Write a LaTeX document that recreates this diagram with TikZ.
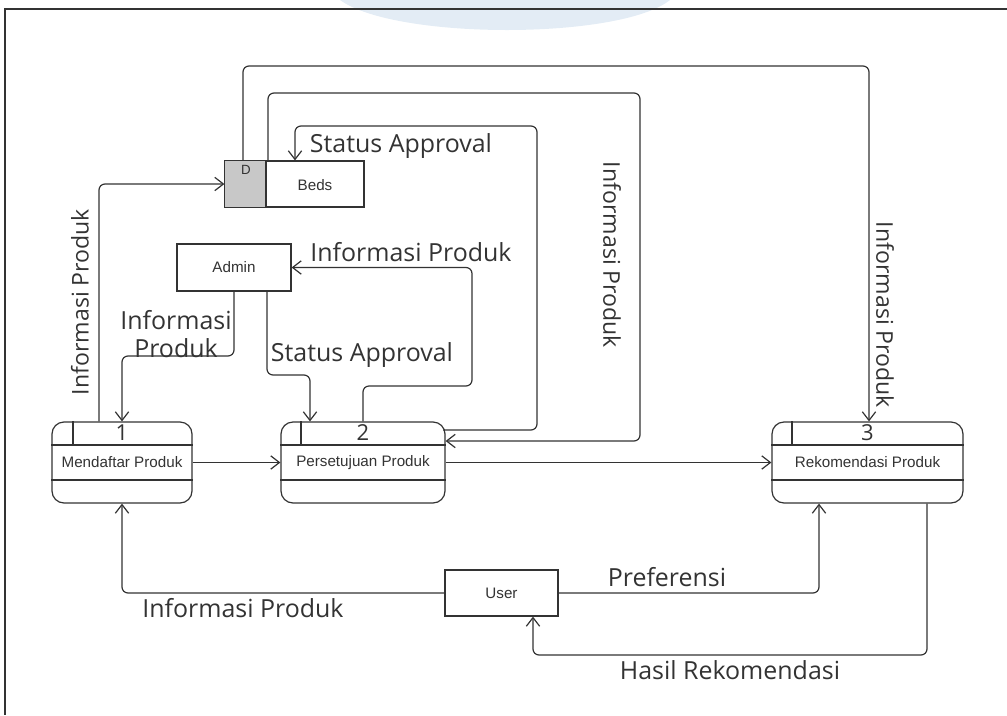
\documentclass[tikz,border=0pt]{standalone}
\usepackage{fontspec}
\setmainfont{Liberation Sans}
\newfontfamily\labfont{Open Sans}
\usetikzlibrary{arrows.meta,calc}
\definecolor{linec}{HTML}{333333}
\definecolor{textc}{HTML}{333333}
\definecolor{storeg}{HTML}{C8C8C8}
\definecolor{wmark}{HTML}{E3ECF5}
\tikzset{
  ln/.style={draw=linec, line width=0.9pt},
  flow/.style={ln, rounded corners=4.5pt, -{Straight Barb[length=6.5pt,width=10pt]}},
  lab/.style={text=textc, font=\labfont\fontsize{18.7}{20}\selectfont, inner sep=0pt},
  vlab/.style={text=textc, font=\labfont\fontsize{17.3}{20}\selectfont, inner sep=0pt},
  ent/.style={draw=linec, line width=0.9pt, fill=white, inner sep=0pt, text=textc, font=\fontsize{11.4}{13}\selectfont},
  proc/.style={ent, rounded corners=9pt, minimum height=60.75pt},
  num/.style={text=textc, font=\labfont\fontsize{16.5}{18}\selectfont, inner sep=0pt},
}
\begin{document}
\begin{tikzpicture}[x=0.75pt,y=-0.75pt]
\useasboundingbox (0,0) rectangle (1007,715);
% watermark
\fill[wmark] (340,0) .. controls (395,40) and (620,40) .. (670,0) -- cycle;
% frame
\draw[linec, line width=1.2pt] (1007,9) -- (5,9) -- (5,715);

% entities
\node[ent, minimum width=104.25pt, minimum height=34.5pt] (beds) at (294.5,184) {};
\fill[storeg] (beds.north west) rectangle (beds.south west -| 266,0);
\draw[ln] (beds.north -| 266,0) -- (beds.south -| 266,0);
\draw[ln] (beds.north west) rectangle (beds.south east);
\node[text=textc, font=\fontsize{10}{11}\selectfont, inner sep=0pt] (dlab) at (246,170) {D};
\node[text=textc, font=\fontsize{11.4}{13}\selectfont, inner sep=0pt] (bedslab) at (315,185) {Beds};

\node[ent, minimum width=85.5pt, minimum height=35.25pt] (admin) at (234,267.5) {Admin};
\node[ent, minimum width=84.75pt, minimum height=34.5pt] (user) at (501.5,593) {User};

\node[proc, minimum width=105pt] (p1) at (122,462.5) {Mendaftar Produk};
\node[proc, minimum width=123pt] (p2) at (363,462.5) {Persetujuan Produk};
\node[proc, minimum width=143.25pt] (p3) at (867.5,462.5) {Rekomendasi Produk};
\foreach \p/\xs/\n in {p1/73/1, p2/301/2, p3/792/3}{
  \draw[ln] (\p.west |- 0,445) -- (\p.east |- 0,445);
  \draw[ln] (\p.west |- 0,480) -- (\p.east |- 0,480);
  \draw[ln] (\p.north -| \xs,0) -- (\xs,445);
  \node[num] (\p n) at ($(\p.north)+(0,11)$) {\n};
}

% connectors
\draw[flow] (beds.north -| 243,0) |- (869,66) -- (p3.north -| 869,0);
\draw[flow] (beds.north -| 268,0) |- (640,93) |- (p2.east |- 0,441);
\draw[flow] (443,430) -| (537,126) -| (beds.north -| 295,0);
\draw[flow] (p1.north -| 99,0) |- (beds.west);
\draw[flow] (admin.south -| 234,0) |- (122,356) -- (p1.north);
\draw[flow] (admin.south -| 267,0) |- (310,375) -- (p2.north -| 310,0);
\draw[flow] (p2.north) |- (472,386) |- (admin.east);
\draw[flow] (p1.east) -- (p2.west);
\draw[flow] (p2.east) -- (p3.west);
\draw[flow] (user.west) -| (p1.south);
\draw[flow] (user.east) -| (p3.south -| 819,0);
\draw[flow] (p3.south -| 927,0) |- (533,655) -- (user.south -| 533,0);

% labels
\node[lab] (l1) at (401,146) {Status Approval};
\node[vlab, rotate=-90] (l2) at (612,255) {Informasi Produk};
\node[vlab, rotate=-90] (l3) at (885,315) {Informasi Produk};
\node[vlab, rotate=90] (l4) at (80,302) {Informasi Produk};
\node[lab] (l5) at (411,252) {Informasi Produk};
\node[lab, align=center, font=\labfont\fontsize{18.7}{20.5}\selectfont] (l6) at (176,334) {Informasi\\Produk};
\node[lab] (l7) at (362,355) {Status Approval};
\node[lab] (l8) at (243,608) {Informasi Produk};
\node[lab] (l9) at (667,577) {Preferensi};
\node[lab] (l10) at (730,670) {Hasil Rekomendasi};
\end{tikzpicture}
\end{document}
